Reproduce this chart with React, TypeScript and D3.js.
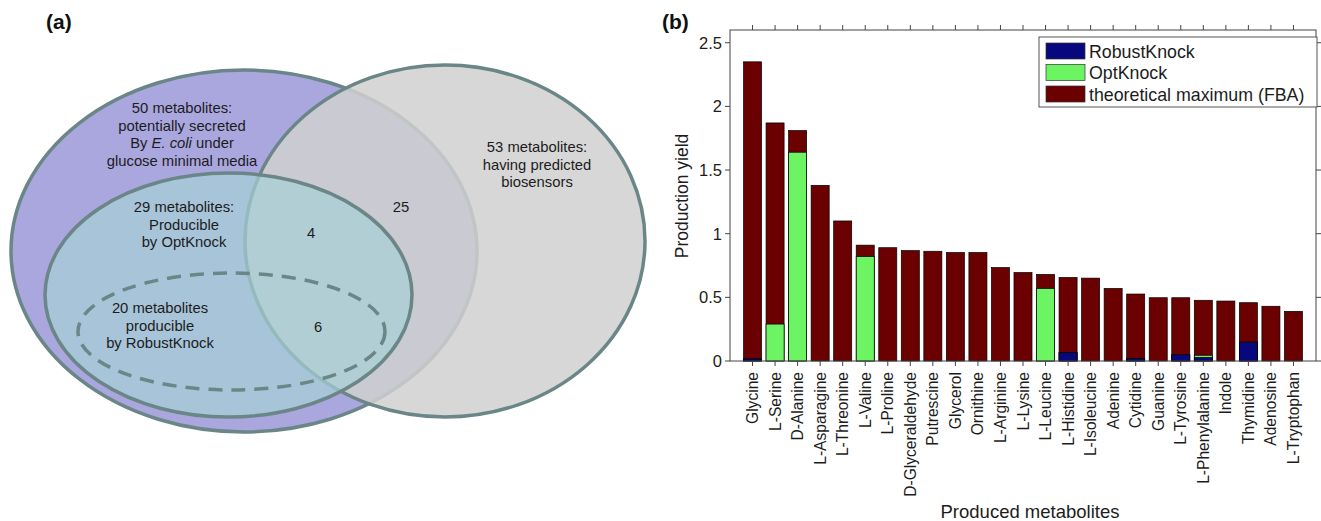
import React from "react";
import * as d3 from "d3";

// panel (b) data
const metabolites = [
  "Glycine", "L-Serine", "D-Alanine", "L-Asparagine", "L-Threonine", "L-Valine",
  "L-Proline", "D-Glyceraldehyde", "Putrescine", "Glycerol", "Ornithine", "L-Arginine",
  "L-Lysine", "L-Leucine", "L-Histidine", "L-Isoleucine", "Adenine", "Cytidine",
  "Guanine", "L-Tyrosine", "L-Phenylalanine", "Indole", "Thymidine", "Adenosine",
  "L-Tryptophan",
];
const fbaMax = [
  2.35, 1.87, 1.81, 1.38, 1.10, 0.91, 0.89, 0.867, 0.862, 0.852, 0.852, 0.734,
  0.695, 0.68, 0.656, 0.651, 0.57, 0.526, 0.497, 0.497, 0.477, 0.471, 0.458, 0.43, 0.39,
];
const optKnock = [
  0.016, 0.29, 1.64, 0, 0, 0.82, 0, 0, 0, 0, 0, 0,
  0, 0.57, 0.065, 0, 0, 0.018, 0, 0.048, 0.045, 0, 0.148, 0, 0,
];
const robustKnock = [
  0.016, 0, 0, 0, 0, 0, 0, 0, 0, 0, 0, 0,
  0, 0, 0.065, 0, 0, 0.018, 0, 0.048, 0.028, 0, 0.148, 0, 0,
];
const yTicks = [0, 0.5, 1, 1.5, 2, 2.5];
const yTickLabels = ["0", "0.5", "1", "1.5", "2", "2.5"];
const legendItems = ["RobustKnock", "OptKnock", "theoretical maximum (FBA)"];

// panel (a) labels
const outerLabel = ["50 metabolites:", "potentially secreted", "By E. coli under", "glucose minimal media"];
const sensorLabel = ["53 metabolites:", "having predicted", "biosensors"];
const optLabel = ["29 metabolites:", "Producible", "by OptKnock"];
const robustLabel = ["20 metabolites", "producible", "by RobustKnock"];
const overlapCounts = ["25", "4", "6"];

const FONT = "'Liberation Sans', Arial, Helvetica, sans-serif";
const RED = "#6b0000";
const GREEN = "#6cf463";
const BLUE = "#08087e";
const OUTLINE = "#6b8687";

function Venn() {
  const lines = (arr: string[], x: number, y0: number, dy: number) =>
    arr.map((t, i) => {
      if (t.startsWith("By E. coli")) {
        return (
          <text key={i} x={x} y={y0 + i * dy} textAnchor="middle">
            By <tspan fontStyle="italic">E. coli</tspan> under
          </text>
        );
      }
      return (
        <text key={i} x={x} y={y0 + i * dy} textAnchor="middle">{t}</text>
      );
    });

  return (
    <g fontFamily={FONT} fontSize={14.8} fill="#1c1c1c">
      <text x={46} y={29} fontSize={21} fontWeight="bold" fill="#111">(a)</text>
      <ellipse cx={244} cy={251} rx={233} ry={181} fill="#aaa7df" stroke={OUTLINE} strokeWidth={3.5} />
      <ellipse cx={445} cy={241} rx={200} ry={176} fill="#d0d0d0" fillOpacity={0.85} stroke={OUTLINE} strokeWidth={3.5} />
      <ellipse cx={228.5} cy={295} rx={183.5} ry={122} fill="#a7d0d5" fillOpacity={0.7} stroke={OUTLINE} strokeWidth={3.5} />
      <ellipse cx={231.5} cy={331.5} rx={153.5} ry={58.5} fill="none" stroke={OUTLINE} strokeWidth={3.5} strokeDasharray="14 9" />
      {lines(outerLabel, 182, 113, 17.7)}
      {lines(sensorLabel, 537, 152, 17.7)}
      {lines(optLabel, 184, 212, 17.7)}
      {lines(robustLabel, 160, 313, 17.7)}
      <text x={401} y={212} textAnchor="middle">{overlapCounts[0]}</text>
      <text x={311} y={238} textAnchor="middle">{overlapCounts[1]}</text>
      <text x={318} y={332} textAnchor="middle">{overlapCounts[2]}</text>
    </g>
  );
}

function Bars() {
  const x = d3.scaleLinear().domain([0, 26]).range([730, 1316]);
  const y = d3.scaleLinear().domain([0, 2.6]).range([361, 30]);
  const bw = x(0.8) - x(0);
  const idx = d3.range(metabolites.length);

  const bar = (vals: number[], color: string, key: string) =>
    idx
      .filter((i) => vals[i] > 0)
      .map((i) => (
        <rect
          key={key + i}
          x={x(i + 1) - bw / 2}
          y={y(vals[i])}
          width={bw}
          height={y(0) - y(vals[i])}
          fill={color}
          stroke="#000"
          strokeWidth={0.7}
        />
      ));

  const legendColors = [BLUE, GREEN, RED];

  return (
    <g fontFamily={FONT} fill="#1c1c1c">
      <text x={662} y={29} fontSize={21} fontWeight="bold" fill="#111">(b)</text>
      {bar(fbaMax, RED, "f")}
      {bar(optKnock, GREEN, "o")}
      {bar(robustKnock, BLUE, "r")}
      <rect x={730} y={30} width={586} height={331} fill="none" stroke="#444" strokeWidth={1} />
      {yTicks.map((t, i) => (
        <g key={"yt" + i}>
          <line x1={725} x2={730} y1={y(t)} y2={y(t)} stroke="#444" />
          <line x1={1316} x2={1321} y1={y(t)} y2={y(t)} stroke="#444" />
          <text x={722} y={y(t) + 6} textAnchor="end" fontSize={16.5}>{yTickLabels[i]}</text>
        </g>
      ))}
      {idx.map((i) => (
        <g key={"xt" + i}>
          <line x1={x(i + 1)} x2={x(i + 1)} y1={361} y2={366} stroke="#444" />
          <line x1={x(i + 1)} x2={x(i + 1)} y1={30} y2={25} stroke="#444" />
          <text
            transform={`translate(${x(i + 1) + 5.5},372) rotate(-90)`}
            textAnchor="end"
            fontSize={15.6}
          >
            {metabolites[i]}
          </text>
        </g>
      ))}
      <text transform="translate(688,196) rotate(-90)" textAnchor="middle" fontSize={17.5}>
        Production yield
      </text>
      <text x={1030} y={518} textAnchor="middle" fontSize={18.5}>Produced metabolites</text>
      <rect x={1039} y={37} width={278} height={70} fill="#fff" stroke="#555" strokeWidth={1} />
      {legendItems.map((t, i) => (
        <g key={"lg" + i}>
          <rect x={1046} y={43 + i * 21.5} width={39} height={16} fill={legendColors[i]} stroke="#333" strokeWidth={0.7} />
          <text x={1089} y={57.5 + i * 21.5} fontSize={17.8}>{t}</text>
        </g>
      ))}
    </g>
  );
}

export default function App() {
  return (
    <svg
      width={1321}
      height={521}
      style={{ position: "absolute", left: 0, top: 0, background: "#fff" }}
    >
      <Venn />
      <Bars />
    </svg>
  );
}
